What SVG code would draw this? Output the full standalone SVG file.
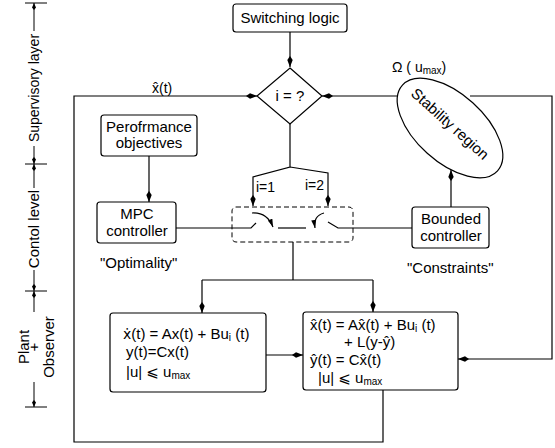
<svg xmlns="http://www.w3.org/2000/svg" width="555" height="448" viewBox="0 0 555 448">
<style>
.t{font-family:"Liberation Sans",Arial,"DejaVu Sans",sans-serif;font-size:15px;fill:#000}
.s{font-size:14px}
.c{text-anchor:middle}
.box{fill:#fff;stroke:#000;stroke-width:1.2}
.ln{fill:none;stroke:#000;stroke-width:1.2}
.ax{fill:none;stroke:#000;stroke-width:1}
</style>
<defs>
<marker id="a" markerUnits="userSpaceOnUse" markerWidth="11" markerHeight="7" viewBox="0 0 11 7" refX="11" refY="3.5" orient="auto">
<path d="M0,3.5 L4,0.8 L11,3.5 L4,6.2 z" fill="#000"/>
</marker>
<marker id="m" markerUnits="userSpaceOnUse" markerWidth="8" markerHeight="6" viewBox="0 0 8 6" refX="8" refY="3" orient="auto">
<path d="M0,0.5 L8,3 L0,5.5 z" fill="#000"/>
</marker>
<marker id="sa" markerUnits="userSpaceOnUse" markerWidth="7" markerHeight="5" viewBox="0 0 7 5" refX="7" refY="2.5" orient="auto">
<path d="M0,2.5 L2.5,0.5 L7,2.5 L2.5,4.5 z" fill="#000"/>
</marker>
</defs>

<g id="axis">
<path class="ax" d="M25,3 H47 M25,164 H47 M25,291 H47 M25,407 H47"/>
<path class="ax" d="M34,31 V3" marker-end="url(#sa)"/>
<path class="ax" d="M34,146 V164" marker-end="url(#sa)"/>
<path class="ax" d="M34,188 V164" marker-end="url(#sa)"/>
<path class="ax" d="M34,270 V291" marker-end="url(#sa)"/>
<path class="ax" d="M34,312 V291" marker-end="url(#sa)"/>
<path class="ax" d="M34,382 V407" marker-end="url(#sa)"/>
<text class="t s c" transform="translate(39,88) rotate(-90)">Supervisory layer</text>
<text class="t c" transform="translate(39,229) rotate(-90)">Contol level</text>
<text class="t c" transform="translate(29,347) rotate(-90)">Plant</text>
<text class="t c" transform="translate(39,347) rotate(-90)">+</text>
<text class="t c" transform="translate(54,347) rotate(-90)">Observer</text>
</g>

<g id="connectors">
<path class="ln" d="M290,32 V67" marker-end="url(#a)"/>
<path class="ln" d="M383,390 V442 H74 V96 H257" marker-end="url(#a)"/>
<path class="ln" d="M420,96 H322" marker-end="url(#a)"/>
<path class="ln" d="M470,96 H552 V359 H458" marker-end="url(#a)"/>
<path class="ln" d="M451,207 V170" marker-end="url(#a)"/>
<path class="ln" d="M149,156 V202" marker-end="url(#a)"/>
<path class="ln" d="M290,124 V167 L253,177 V206" marker-end="url(#a)"/>
<path class="ln" d="M290,167 L328,173 V206" marker-end="url(#a)"/>
<path class="ln" d="M176,228 H251 L256,223"/>
<path class="ln" d="M252,213 Q267,212 273,227" marker-end="url(#m)"/>
<path class="ln" d="M278,228 H306"/>
<path class="ln" d="M324,213 Q313,216 315,228" marker-end="url(#m)"/>
<path class="ln" d="M328,222 L338,228 H412"/>
<path class="ln" d="M293,242 V280 M202,280 H373"/>
<path class="ln" d="M202,280 V313" marker-end="url(#a)"/>
<path class="ln" d="M373,280 V312" marker-end="url(#a)"/>
<path class="ln" d="M266,355 H303" marker-end="url(#a)"/>
<text class="t s" x="152" y="93">x&#x302;(t)</text>
<text class="t s" x="392" y="72">Ω ( u<tspan font-size="10" dy="2">max</tspan><tspan dy="-2">)</tspan></text>
<text class="t s" x="256" y="192">i=1</text>
<text class="t s" x="305" y="190">i=2</text>
</g>

<g id="switching-logic">
<rect class="box" x="233" y="4" width="114" height="28" rx="3"/>
<text class="t c" x="290" y="23">Switching logic</text>
</g>

<g id="decision">
<path class="box" d="M290,68 L322,96 L290,124 L257,96 z"/>
<text class="t c" x="290" y="101">i = ?</text>
</g>

<g id="stability-region">
<ellipse class="box" cx="450" cy="128" rx="64" ry="34" transform="rotate(42 450 128)"/>
<text class="t c" transform="translate(450,124) rotate(42)" y="5">Stability region</text>
</g>

<g id="performance">
<rect class="box" x="101" y="115" width="96" height="41" rx="3"/>
<text class="t c" x="149" y="132">Perofrmance</text>
<text class="t c" x="149" y="148">objectives</text>
</g>

<g id="mpc">
<rect class="box" x="97" y="202" width="79" height="41" rx="3"/>
<text class="t c" x="137" y="219">MPC</text>
<text class="t c" x="137" y="236">controller</text>
<text class="t" x="100" y="268">"Optimality"</text>
</g>

<g id="switch">
<rect x="232" y="207" width="121" height="35" rx="4" fill="none" stroke="#000" stroke-width="1" stroke-dasharray="5,3"/>
</g>

<g id="bounded">
<rect class="box" x="412" y="207" width="77" height="41" rx="3"/>
<text class="t c" x="451" y="224">Bounded</text>
<text class="t c" x="451" y="241">controller</text>
<text class="t" x="407" y="273">"Constraints"</text>
</g>

<g id="plant">
<rect class="box" x="110" y="313" width="156" height="79" rx="3"/>
<text class="t" x="123" y="339"><tspan font-family="DejaVu Sans" font-size="14">ẋ</tspan>(t) = Ax(t) + Bu<tspan font-size="10" dy="2">i</tspan><tspan dy="-2"> (t)</tspan></text>
<text class="t" x="126" y="357">y(t)=Cx(t)</text>
<text class="t" x="126" y="377">|u| ⩽  u<tspan font-size="10" dy="2">max</tspan></text>
</g>

<g id="observer">
<rect class="box" x="303" y="312" width="155" height="78" rx="3"/>
<text class="t" x="310" y="330">x&#x302;(t) = Ax&#x302;(t) + Bu<tspan font-size="10" dy="2">i</tspan><tspan dy="-2"> (t)</tspan></text>
<text class="t" x="344" y="347">+ L(y-ŷ)</text>
<text class="t" x="310" y="365">ŷ(t) = Cx&#x302;(t)</text>
<text class="t" x="318" y="383">|u| ⩽ u<tspan font-size="10" dy="2">max</tspan></text>
</g>
</svg>
